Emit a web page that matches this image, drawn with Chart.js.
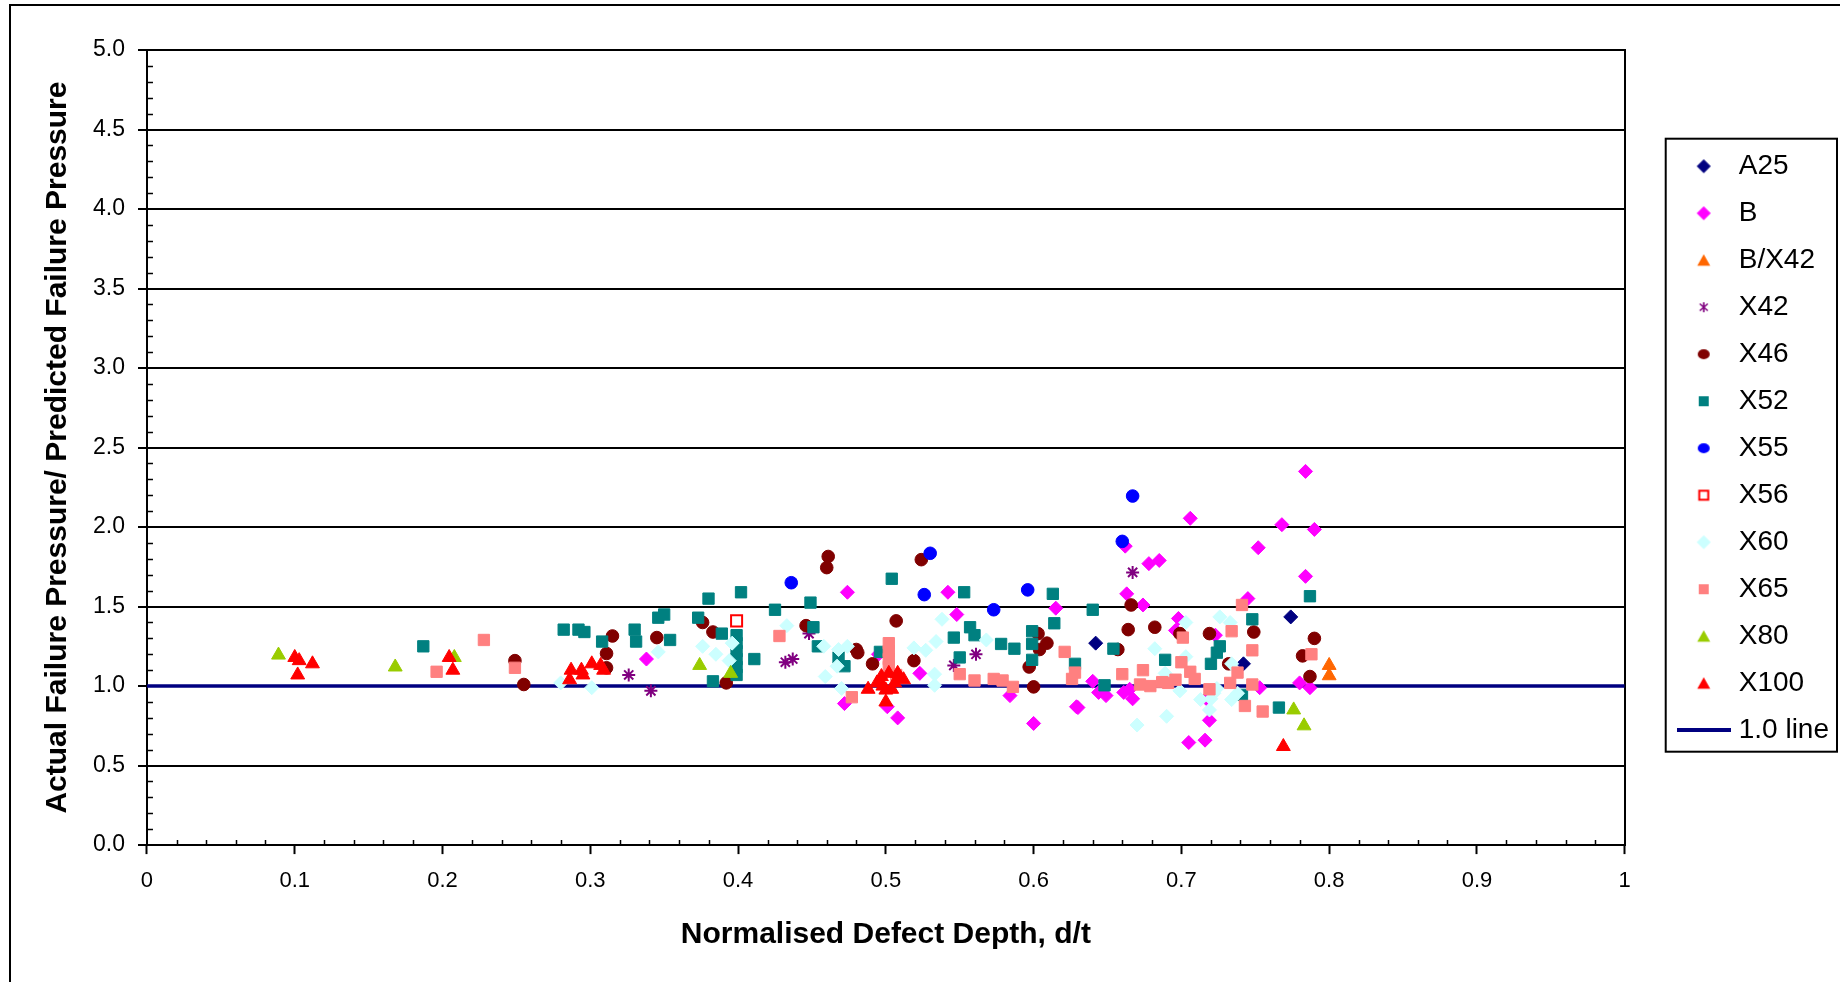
<!DOCTYPE html>
<html>
<head>
<meta charset="utf-8">
<title>Actual / predicted failure pressure vs defect depth</title>
<script src="https://cdn.jsdelivr.net/npm/chart.js@4.4.1/dist/chart.umd.min.js"></script>
<style>
  html, body { margin: 0; padding: 0; background: #fff; }
  #wrap { position: relative; width: 1840px; height: 982px; }
</style>
</head>
<body>
<div id="wrap"><canvas id="chart" width="1840" height="982"></canvas></div>
<script>
// normalised defect depth (d/t) and failure pressure ratio, one pair of arrays per grade
const a25X = [0.642, 0.742, 0.774];
const a25Y = [1.27, 1.14, 1.435];

const bX = [0.338, 0.474, 0.472, 0.542, 0.615, 0.548, 0.495, 0.523, 0.508, 0.501, 0.584, 0.600, 0.629, 0.706, 0.768, 0.752, 0.662, 0.678, 0.685, 0.663, 0.674, 0.745, 0.698, 0.696, 0.723, 0.640, 0.644, 0.649, 0.661, 0.667, 0.665, 0.630, 0.719, 0.705, 0.716, 0.753, 0.717, 0.784, 0.790, 0.784, 0.780, 0.787];
const bY = [1.17, 1.59, 0.89, 1.59, 1.49, 1.45, 1.20, 1.08, 0.80, 0.87, 0.94, 0.765, 0.87, 2.055, 2.015, 1.87, 1.88, 1.77, 1.79, 1.58, 1.51, 1.55, 1.425, 1.35, 1.32, 1.03, 0.96, 0.94, 0.96, 0.92, 0.98, 0.865, 0.785, 0.645, 0.66, 0.99, 0.92, 2.35, 1.985, 1.69, 1.02, 0.99];

const bx42X = [0.800, 0.800];
const bx42Y = [1.13, 1.065];

const x42X = [0.326, 0.341, 0.448, 0.432, 0.437, 0.561, 0.546, 0.667];
const x42Y = [1.07, 0.97, 1.33, 1.15, 1.17, 1.20, 1.13, 1.715];

const x46X = [0.249, 0.255, 0.315, 0.311, 0.311, 0.345, 0.376, 0.383, 0.392, 0.460, 0.461, 0.446, 0.480, 0.481, 0.491, 0.524, 0.507, 0.519, 0.603, 0.609, 0.604, 0.597, 0.600, 0.666, 0.664, 0.682, 0.657, 0.699, 0.719, 0.749, 0.732, 0.790, 0.782, 0.787];
const x46Y = [1.16, 1.01, 1.315, 1.205, 1.115, 1.305, 1.40, 1.34, 1.02, 1.745, 1.815, 1.38, 1.23, 1.21, 1.14, 1.795, 1.41, 1.16, 1.33, 1.27, 1.23, 1.12, 0.995, 1.51, 1.355, 1.37, 1.23, 1.33, 1.33, 1.34, 1.14, 1.30, 1.19, 1.06];

const x52X = [0.187, 0.282, 0.292, 0.296, 0.308, 0.330, 0.331, 0.346, 0.350, 0.354, 0.380, 0.402, 0.373, 0.389, 0.383, 0.399, 0.399, 0.399, 0.399, 0.399, 0.399, 0.425, 0.449, 0.411, 0.451, 0.454, 0.468, 0.472, 0.504, 0.553, 0.613, 0.614, 0.557, 0.560, 0.546, 0.578, 0.587, 0.599, 0.599, 0.599, 0.550, 0.496, 0.628, 0.640, 0.654, 0.648, 0.689, 0.748, 0.726, 0.724, 0.720, 0.741, 0.766, 0.787];
const x52Y = [1.25, 1.355, 1.355, 1.34, 1.28, 1.355, 1.28, 1.43, 1.45, 1.29, 1.55, 1.59, 1.43, 1.33, 1.03, 1.07, 1.12, 1.17, 1.22, 1.27, 1.32, 1.48, 1.525, 1.17, 1.37, 1.25, 1.18, 1.125, 1.675, 1.59, 1.58, 1.395, 1.37, 1.32, 1.305, 1.265, 1.235, 1.345, 1.265, 1.165, 1.18, 1.215, 1.14, 1.48, 1.235, 1.005, 1.165, 1.42, 1.25, 1.21, 1.14, 0.945, 0.865, 1.565];

const x55X = [0.436, 0.530, 0.526, 0.573, 0.596, 0.660, 0.667];
const x55Y = [1.65, 1.835, 1.575, 1.48, 1.605, 1.91, 2.195];

const x56X = [0.399];
const x56Y = [1.41];

const x60X = [0.280, 0.301, 0.346, 0.376, 0.385, 0.396, 0.394, 0.433, 0.458, 0.468, 0.474, 0.467, 0.459, 0.470, 0.538, 0.534, 0.519, 0.527, 0.568, 0.533, 0.533, 0.682, 0.703, 0.726, 0.733, 0.703, 0.689, 0.699, 0.690, 0.670, 0.713, 0.719, 0.720, 0.734, 0.738, 0.734, 0.724, 0.722];
const x60Y = [1.02, 0.99, 1.215, 1.25, 1.20, 1.27, 1.16, 1.38, 1.25, 1.23, 1.25, 1.125, 1.06, 0.985, 1.42, 1.28, 1.24, 1.225, 1.29, 1.075, 1.005, 1.235, 1.40, 1.435, 1.40, 1.185, 1.08, 0.97, 0.81, 0.755, 0.915, 0.85, 0.92, 0.915, 0.955, 1.14, 0.985, 0.955];

const x65X = [0.196, 0.228, 0.249, 0.428, 0.477, 0.502, 0.502, 0.502, 0.502, 0.507, 0.550, 0.560, 0.573, 0.579, 0.586, 0.621, 0.626, 0.628, 0.660, 0.674, 0.672, 0.679, 0.687, 0.691, 0.696, 0.700, 0.706, 0.709, 0.701, 0.719, 0.734, 0.741, 0.748, 0.738, 0.733, 0.748, 0.743, 0.755, 0.788];
const x65Y = [1.09, 1.29, 1.115, 1.315, 0.93, 1.12, 1.17, 1.22, 1.27, 1.07, 1.075, 1.035, 1.045, 1.035, 0.995, 1.215, 1.045, 1.085, 1.075, 1.10, 1.01, 1.00, 1.025, 1.02, 1.04, 1.15, 1.09, 1.045, 1.305, 0.98, 1.345, 1.51, 1.225, 1.085, 1.02, 1.01, 0.875, 0.84, 1.20];

const x80X = [0.089, 0.168, 0.208, 0.374, 0.395, 0.776, 0.783];
const x80Y = [1.195, 1.12, 1.18, 1.13, 1.08, 0.85, 0.75];

const x100X = [0.100, 0.103, 0.102, 0.112, 0.2045, 0.207, 0.287, 0.294, 0.301, 0.307, 0.309, 0.286, 0.295, 0.488, 0.497, 0.502, 0.508, 0.510, 0.500, 0.504, 0.500, 0.494, 0.506, 0.512, 0.498, 0.769];
const x100Y = [1.18, 1.16, 1.07, 1.14, 1.18, 1.10, 1.10, 1.10, 1.14, 1.13, 1.10, 1.04, 1.07, 0.98, 1.06, 1.08, 1.08, 1.05, 0.975, 0.98, 0.90, 1.02, 1.02, 1.04, 1.00, 0.62];

const oneLineX = [0, 1];
const oneLineY = [1, 1];

Chart.defaults.font.family = "'Liberation Sans', Arial, Helvetica, sans-serif";
Chart.defaults.color = '#000';

function pts(xs, ys) {
    return xs.map((x, i) => ({ x: x, y: ys[i] }));
}

// small legend markers, drawn once on their own canvases
function makeIcon(style, color, fill) {
    const c = document.createElement('canvas');
    const g = c.getContext('2d');
    if (style === 'line') {
        c.width = 54; c.height = 4;
        g.fillStyle = color;
        g.fillRect(0, 0, 54, 4);
        return c;
    }
    c.width = 16; c.height = 16;
    g.fillStyle = fill;
    g.strokeStyle = color;
    g.lineWidth = 1;
    g.beginPath();
    if (style === 'rectRot') {
        g.moveTo(8, 1.5); g.lineTo(14.5, 8); g.lineTo(8, 14.5); g.lineTo(1.5, 8); g.closePath();
        g.fill(); g.stroke();
    } else if (style === 'rect') {
        g.rect(3, 3, 10, 10);
        g.fill();
    } else if (style === 'openRect') {
        g.lineWidth = 2;
        g.rect(3.5, 3.5, 9, 9);
        g.fill(); g.stroke();
    } else if (style === 'triangle') {
        g.moveTo(8, 2); g.lineTo(14.5, 13.5); g.lineTo(1.5, 13.5); g.closePath();
        g.fill();
    } else if (style === 'circle') {
        g.ellipse(8, 8, 6, 5, 0, 0, Math.PI * 2);
        g.fill();
    } else if (style === 'star') {
        g.lineWidth = 1.6;
        g.moveTo(8, 3); g.lineTo(8, 13);
        g.moveTo(4, 4.5); g.lineTo(12, 11.5);
        g.moveTo(12, 4.5); g.lineTo(4, 11.5);
        g.stroke();
    }
    return c;
}

const series = [
    { label: 'A25', xs: a25X, ys: a25Y, style: 'rectRot', color: '#000080', r: 7 },
    { label: 'B', xs: bX, ys: bY, style: 'rectRot', color: '#FF00FF', r: 7 },
    { label: 'B/X42', xs: bx42X, ys: bx42Y, style: 'triangle', color: '#FF6600', r: 8 },
    { label: 'X42', xs: x42X, ys: x42Y, style: 'star', color: '#800080', r: 6.5, bw: 2 },
    { label: 'X46', xs: x46X, ys: x46Y, style: 'circle', color: '#800000', r: 6.3 },
    { label: 'X52', xs: x52X, ys: x52Y, style: 'rect', color: '#008080', r: 8 },
    { label: 'X55', xs: x55X, ys: x55Y, style: 'circle', color: '#0000FF', r: 6.3 },
    { label: 'X56', xs: x56X, ys: x56Y, style: 'rect', color: '#FF0000', fill: '#FFFFFF', r: 7.8, bw: 2, icon: 'openRect' },
    { label: 'X60', xs: x60X, ys: x60Y, style: 'rectRot', color: '#CCFFFF', r: 7 },
    { label: 'X65', xs: x65X, ys: x65Y, style: 'rect', color: '#FF8080', r: 8 },
    { label: 'X80', xs: x80X, ys: x80Y, style: 'triangle', color: '#99CC00', r: 8 },
    { label: 'X100', xs: x100X, ys: x100Y, style: 'triangle', color: '#FF0000', r: 8 }
];

const icons = [];
const datasets = series.map((s, i) => {
    icons.push(makeIcon(s.icon || s.style, s.color, s.fill || s.color));
    return {
        label: s.label,
        data: pts(s.xs, s.ys),
        yAxisID: 'y',
        pointStyle: s.style,
        pointRadius: s.r,
        backgroundColor: s.fill || s.color,
        borderColor: s.color,
        pointBorderWidth: s.bw || 1,
        showLine: false,
        order: 50 - i   // later grades painted on top
    };
});
icons.push(makeIcon('line', '#000080'));
datasets.push({
    label: '1.0 line',
    data: pts(oneLineX, oneLineY),
    yAxisID: 'y',
    showLine: true,
    borderColor: '#000080',
    backgroundColor: '#000080',
    borderWidth: 3.5,
    pointRadius: 0,
    order: 100
});

// outer frame + white background
const framePlugin = {
    id: 'frame',
    beforeDraw(chart) {
        const ctx = chart.ctx;
        ctx.save();
        ctx.fillStyle = '#fff';
        ctx.fillRect(0, 0, chart.width, chart.height);
        ctx.strokeStyle = '#000';
        ctx.lineWidth = 2;
        ctx.beginPath();
        ctx.moveTo(10, chart.height);
        ctx.lineTo(10, 5);
        ctx.lineTo(chart.width, 5);
        ctx.stroke();
        ctx.restore();
    }
};

// minor ticks pointing into the plot
const minorTicks = {
    id: 'minorTicks',
    afterDatasetsDraw(chart) {
        const { ctx, scales: { x, y } } = chart;
        ctx.save();
        ctx.strokeStyle = '#000';
        ctx.lineWidth = 1.5;
        ctx.beginPath();
        for (let i = 1; i < 50; i++) {
            if (i % 5 === 0) continue;
            const py = Math.round(y.getPixelForValue(i / 10)) + 0.5;
            ctx.moveTo(x.left, py);
            ctx.lineTo(x.left + 6, py);
        }
        for (let i = 1; i < 50; i++) {
            if (i % 5 === 0) continue;
            const px = Math.round(x.getPixelForValue(i / 50)) + 0.5;
            ctx.moveTo(px, y.bottom);
            ctx.lineTo(px, y.bottom - 5);
        }
        ctx.stroke();
        ctx.restore();
    }
};

// border round the legend
const legendBox = {
    id: 'legendBox',
    afterDraw(chart) {
        const lg = chart.legend;
        const hb = lg.legendHitBoxes;
        if (!hb || !hb.length) return;
        const first = hb[0], last = hb[hb.length - 1];
        const ctx = chart.ctx;
        ctx.save();
        ctx.strokeStyle = '#000';
        ctx.lineWidth = 2;
        const top = first.top - 13.5;
        const bottom = last.top + last.height + 7.5;
        ctx.strokeRect(lg.left + 2, top, lg.right - lg.left - 4, bottom - top);
        ctx.restore();
    }
};

new Chart(document.getElementById('chart'), {
    type: 'scatter',
    data: { datasets: datasets },
    options: {
        responsive: false,
        animation: false,
        events: [],
        layout: { padding: { left: 38, top: 50, right: 1, bottom: 29 } },
        scales: {
            x: {
                type: 'linear',
                min: 0,
                max: 1,
                ticks: {
                    stepSize: 0.1,
                    padding: 14,
                    maxRotation: 0,
                    autoSkip: false,
                    font: { size: 22 },
                    callback: v => String(Math.round(v * 10) / 10)
                },
                grid: { drawOnChartArea: false, drawTicks: true, tickLength: 9, tickColor: '#000', tickWidth: 2 },
                border: { display: true, color: '#000', width: 2 },
                title: {
                    display: true,
                    text: 'Normalised Defect Depth, d/t',
                    font: { size: 30, weight: 'bold' },
                    padding: { top: 8.5, bottom: 0 }
                }
            },
            y: {
                min: 0,
                max: 5,
                ticks: {
                    stepSize: 0.5,
                    padding: 13,
                    font: { size: 23 },
                    callback: v => v.toFixed(1)
                },
                grid: { color: '#000', lineWidth: 2, tickLength: 9, tickColor: '#000', tickWidth: 2 },
                border: { display: true, color: '#000', width: 2 },
                title: {
                    display: true,
                    text: 'Actual Failure Pressure/ Predicted Failure Pressure',
                    font: { size: 30, weight: 'bold' },
                    padding: { top: 2, bottom: 4 }
                }
            },
            y2: {
                position: 'right',
                min: 0,
                max: 5,
                ticks: { display: false },
                grid: { drawOnChartArea: false, drawTicks: false },
                border: { display: true, color: '#000', width: 2 },
                afterFit(scale) { scale.width = 39; }
            }
        },
        plugins: {
            tooltip: { enabled: false },
            legend: {
                position: 'right',
                align: 'start',
                title: { display: true, text: '', padding: { top: 82, bottom: 0 }, font: { size: 1 } },
                labels: {
                    usePointStyle: true,
                    pointStyleWidth: 42,
                    boxWidth: 42,
                    boxHeight: 10,
                    padding: 19,
                    color: '#000',
                    font: { size: 28 },
                    sort: (a, b) => a.datasetIndex - b.datasetIndex,
                    generateLabels(chart) {
                        const items = Chart.defaults.plugins.legend.labels.generateLabels(chart);
                        items.forEach(it => {
                            it.pointStyle = icons[it.datasetIndex];
                            it.lineWidth = 0;
                        });
                        return items;
                    }
                }
            }
        }
    },
    plugins: [framePlugin, minorTicks, legendBox]
});
</script>
</body>
</html>
